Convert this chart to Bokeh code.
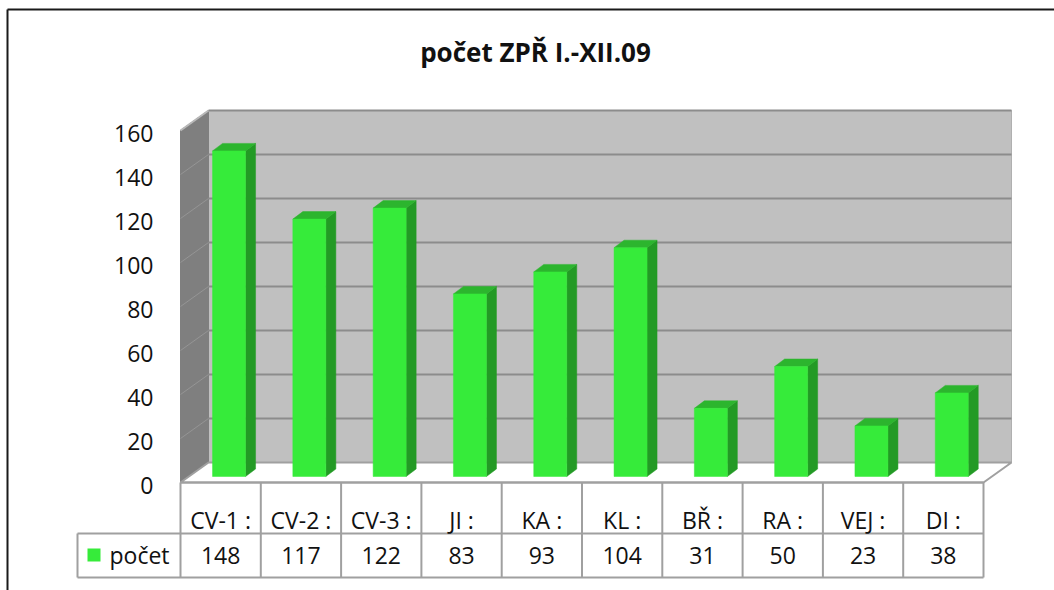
from bokeh.plotting import figure
from bokeh.models import Range1d
from bokeh.core.properties import value
from bokeh.embed import file_html
from bokeh.resources import INLINE

# ---------------- data ----------------
title_text = "počet ZPŘ I.-XII.09"
series_name = "počet"
categories = ["CV-1 :", "CV-2 :", "CV-3 :", "JI :", "KA :", "KL :", "BŘ :", "RA :", "VEJ :", "DI :"]
values = [148, 117, 122, 83, 93, 104, 31, 50, 23, 38]
y_ticks = [0, 20, 40, 60, 80, 100, 120, 140, 160]

# ---------------- geometry (pixels per unit) ----------------
W, H = 1054, 590
XU = 80.3      # px per category
YU = 2.2       # px per value unit
x0 = (0 - 180) / XU - 0.5
x1 = x0 + W / XU
y1 = (482 - 0) / YU
y0 = y1 - H / YU
x_range = Range1d(x0, x1)
y_range = Range1d(y0, y1)

n = len(categories)
ymax = y_ticks[-1]
DX, DY = 28 / XU, 20 / YU            # full depth of the 3D box
OX, OY = 0.3 * DX, 0.3 * DY          # bar front-face offset
BDX, BDY = 10 / XU, 7.5 / YU         # bar depth
HW = 16.5 / XU                       # bar half width
ROW1 = -51 / YU                      # row separator in table
ROW2 = -95 / YU                      # table bottom
LEG_L = (77 - 180) / XU - 0.5

FONT = value("Open Sans")
FS = "23px"

p = figure(width=W, height=H, x_range=x_range, y_range=y_range,
           output_backend="svg", toolbar_location=None,
           x_axis_location=None, y_axis_location=None, min_border=0)
p.grid.visible = False
p.outline_line_color = None
p.background_fill_color = "white"
p.border_fill_color = "white"

left = -0.5
right = n - 0.5

# back wall
p.patch([left + DX, right + DX, right + DX, left + DX],
        [DY, DY, ymax + DY, ymax + DY],
        fill_color="#c0c0c0", line_color="#b0b0b0", line_width=1)
# side wall
p.patch([left, left + DX, left + DX, left],
        [0, DY, ymax + DY, ymax],
        fill_color="#7f7f7f", line_color="#7f7f7f", line_width=1)
# floor
p.patch([left, right, right + DX, left + DX],
        [0, 0, DY, DY],
        fill_color="white", line_color="#a0a0a0", line_width=2)

# gridlines back wall
gt = y_ticks[1:]
p.segment(x0=[left + DX] * len(gt), y0=[t + DY for t in gt],
          x1=[right + DX] * len(gt), y1=[t + DY for t in gt],
          line_color="#8c8c8c", line_width=2)
# gridlines side wall
p.segment(x0=[left] * len(gt), y0=gt,
          x1=[left + DX] * len(gt), y1=[t + DY for t in gt],
          line_color="#959595", line_width=1)
# top edge of side wall lighter
p.segment(x0=[left], y0=[ymax], x1=[left + DX], y1=[ymax + DY],
          line_color="#b8b8b8", line_width=2)

# bars
xs_idx = list(range(n))
Ls = [i + OX - HW for i in xs_idx]
Rs = [i + OX + HW for i in xs_idx]
side_xs = [[r, r + BDX, r + BDX, r] for r in Rs]
side_ys = [[OY, OY + BDY, v + OY + BDY, v + OY] for v in values]
top_xs = [[l, r, r + BDX, l + BDX] for l, r in zip(Ls, Rs)]
top_ys = [[v + OY, v + OY, v + OY + BDY, v + OY + BDY] for v in values]
p.patches(side_xs, side_ys, fill_color="#239a25", line_color="#239a25", line_width=0.5)
p.patches(top_xs, top_ys, fill_color="#2cb52e", line_color="#2cb52e", line_width=0.5)
p.quad(left=Ls, right=Rs, bottom=[OY] * n, top=[v + OY for v in values],
       fill_color="#36eb3a", line_color="#36eb3a", line_width=0.5)

# y tick labels
p.text(x=[left - 0.336] * len(y_ticks), y=[t - 1.3 for t in y_ticks],
       text=[str(t) for t in y_ticks], text_font=FONT, text_font_size=FS,
       text_align="right", text_baseline="middle", text_color="#111111")

# data table
tc = "#a0a0a0"
p.segment(x0=[left, left, LEG_L], y0=[0, ROW1, ROW2],
          x1=[right, right, right], y1=[0, ROW1, ROW2],
          line_color=tc, line_width=2)
vx = [i - 0.5 for i in range(n + 1)]
p.segment(x0=vx, y0=[0] * len(vx), x1=vx, y1=[ROW2] * len(vx),
          line_color=tc, line_width=2)
p.segment(x0=[LEG_L, LEG_L], y0=[ROW1, ROW1], x1=[LEG_L, left], y1=[ROW2, ROW1],
          line_color=tc, line_width=2)

p.text(x=xs_idx, y=[-37 / YU] * n, text=categories, text_font=FONT,
       text_font_size=FS, text_align="center", text_baseline="middle",
       text_color="#111111")
p.text(x=xs_idx, y=[-73 / YU] * n, text=[str(v) for v in values], text_font=FONT,
       text_font_size=FS, text_align="center", text_baseline="middle",
       text_color="#111111")

# legend key
p.quad(left=[(87 - 180) / XU - 0.5], right=[(100 - 180) / XU - 0.5],
       bottom=[-79 / YU], top=[-66 / YU], fill_color="#36eb3a", line_color=None)
p.text(x=[(109 - 180) / XU - 0.5], y=[-72 / YU], text=[series_name], text_font=FONT,
       text_font_size=FS, text_align="left", text_baseline="middle",
       text_color="#111111")

# title
p.text(x=[(535 - 180) / XU - 0.5], y=[(482 - 51) / YU], text=[title_text],
       text_font=FONT, text_font_size="26px", text_font_style="bold",
       text_align="center", text_baseline="middle", text_color="#111111")

# chart border (left and top edges of the chart area)
bx = x0 + 7 / XU
by = y1 - 9 / YU
p.segment(x0=[bx, bx], y0=[y0, by], x1=[bx, x1], y1=[by, by],
          line_color="#1a1a1a", line_width=2)

open("out.html", "w").write(file_html(p, INLINE))
